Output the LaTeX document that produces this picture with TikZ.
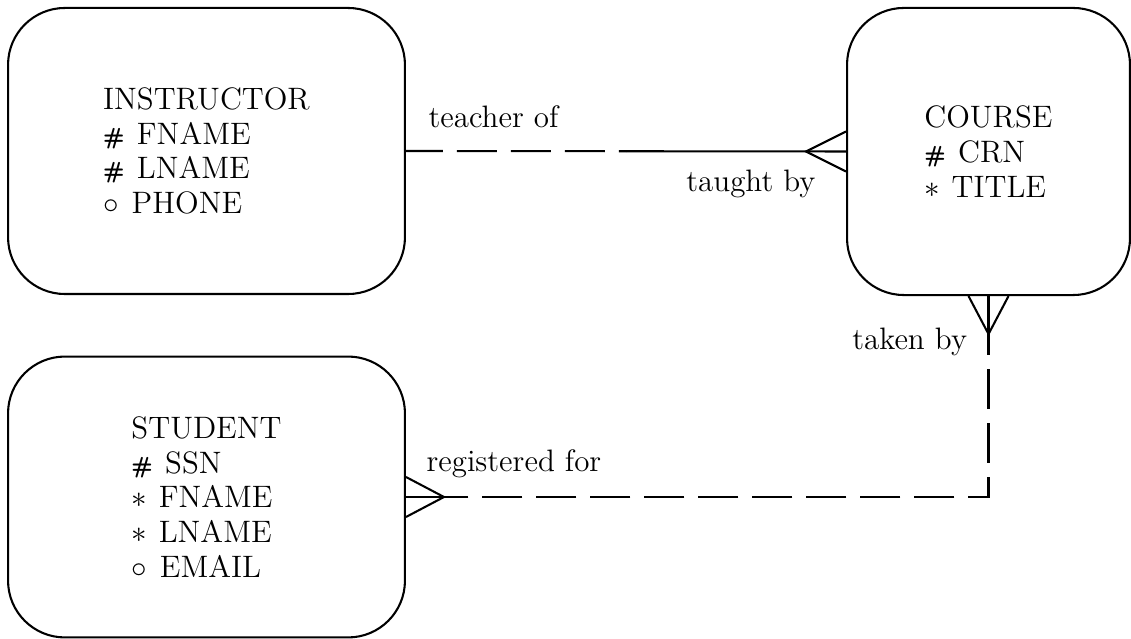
\documentclass[tikz,border=0pt]{standalone}
\usepackage{amsmath,amssymb}
\usepackage{tikz}
\usetikzlibrary{calc,positioning}

\newcommand{\idmark}{{\small\textsf{\textbf{\#}}}\hspace{0.4em}}
\newcommand{\reqmark}{{\large$\ast$}\hspace{0.38em}}
\newcommand{\optmark}{$\circ$\hspace{0.42em}}

\begin{document}
\begin{tikzpicture}[
  x=0.387pt, y=-0.387pt,
  entity/.style={draw, line width=0.8pt, rounded corners=22pt, align=left,
    inner sep=0pt, font=\fontsize{12}{13.4}\selectfont},
  rel/.style={line width=0.8pt},
  optional/.style={rel, dash pattern=on 15.5pt off 5.4pt},
  rolename/.style={inner sep=0pt, font=\fontsize{12}{13.4}\selectfont}
]
\useasboundingbox (0,0) rectangle (1131,639);

% entities
\node[entity, minimum width=153.6pt, minimum height=110.7pt] (instructor) at (206.5,151)
  {INSTRUCTOR\\ \idmark FNAME\\ \idmark LNAME\\ \optmark PHONE};
\node[entity, minimum width=109.5pt, minimum height=111.1pt] (course) at (988.5,151.5)
  {COURSE\\ \idmark CRN\\ \reqmark TITLE};
\node[entity, minimum width=153.6pt, minimum height=108.7pt] (student) at (206.5,497)
  {STUDENT\\ \idmark SSN\\ \reqmark FNAME\\ \reqmark LNAME\\ \optmark EMAIL};

% instructor -- course
\coordinate (teachmid) at ($(instructor.east)!0.5!(course.west)$);
\coordinate (teachtip) at ($(course.west)+(-40,0)$);
\draw[optional, dash phase=1.2pt] (instructor.east) -- (teachmid);
\draw[rel] (teachmid) -- (course.west);
\draw[rel] ($(course.west)+(0,-20)$) -- (teachtip) -- ($(course.west)+(0,20)$);
\node[rolename, anchor=base west] (teacherof) at ($(instructor.east)+(22,-23)$) {teacher of};
\node[rolename, anchor=base east] (taughtby) at ($(course.west)+(-30,40.5)$) {taught by};

% course -- student
\coordinate (takentip) at ($(course.south)+(0,38)$);
\coordinate (regtip) at ($(student.east)+(38,0)$);
\coordinate (regcorner) at (course.south |- student.east);
\draw[rel] (course.south) -- (takentip);
\draw[rel] ($(course.south)+(-20,0)$) -- (takentip) -- ($(course.south)+(20,0)$);
\draw[rel] (student.east) -- (regtip);
\draw[rel] ($(student.east)+(0,-20)$) -- (regtip) -- ($(student.east)+(0,20)$);
\draw[optional, dash phase=7.35pt] (takentip) -- (regcorner) -- (regtip);
\node[rolename, anchor=base east] (takenby) at ($(takentip)+(-21,15)$) {taken by};
\node[rolename, anchor=base west] (registeredfor) at ($(student.east)+(20,-25)$) {registered for};
\end{tikzpicture}
\end{document}
